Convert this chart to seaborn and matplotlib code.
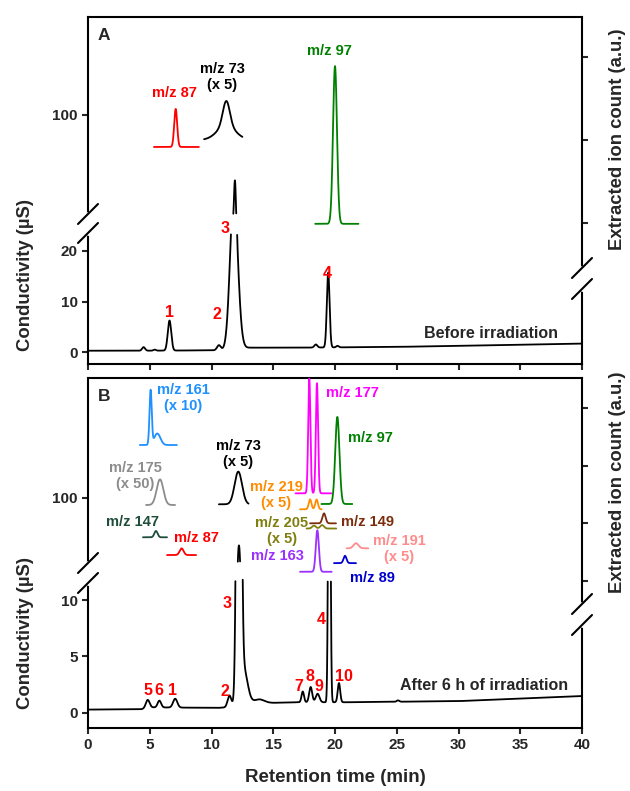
import numpy as np
import pandas as pd
import matplotlib
matplotlib.use("Agg")
import matplotlib.pyplot as plt
from matplotlib.lines import Line2D
import seaborn as sns

# ======================= DATA =======================
# ---- Panel A : conductivity trace (before irradiation) ----
baseA_t = [0.0, 4.2, 9.5, 11.4, 12.6, 17.0, 25.0, 30.0, 40.0]
baseA_v = [0.35, 0.35, 0.42, 0.45, 0.95, 0.95, 1.1, 1.3, 1.75]
peakA_t = [4.5, 5.4, 6.6, 10.6, 11.8, 11.9, 12.2, 18.45, 19.45, 20.2]
peakA_h = [0.7, 0.2, 5.9, 1.0, 30.0, 27.0, 2.0, 0.6, 14.7, 0.3]
peakA_w = [0.12, 0.10, 0.14, 0.15, 0.30, 0.07, 0.25, 0.12, 0.11, 0.10]
labelA_txt = ["1", "2", "3", "4"]
labelA_x = [6.6, 10.4, 11.1, 19.4]
labelA_y = [7.8, 7.5, 26.9, 15.6]

# ---- Panel A : extracted ion chromatograms ----
eicA_name = ["m/z 87", "m/z 73", "m/z 97"]
eicA_color = ["#FF0000", "#000000", "#008000"]
eicA_tmin = [5.34, 9.4, 18.4]
eicA_tmax = [8.98, 12.5, 21.9]
eicA_base = [1.916, 2.0, 0.99]
eicA_pk_t = [[7.1], [11.2, 11.2], [20.0]]
eicA_pk_h = [[0.458], [0.30, 0.17], [1.9]]
eicA_pk_w = [[0.12], [0.28, 0.75], [0.16]]
eicA_lbl = ["m/z 87", "m/z 73\n(x 5)", "m/z 97"]
eicA_lbl_x = [6.96, 10.85, 19.51]
eicA_lbl_y = [2.566, 2.76, 3.07]

# ---- Panel B : conductivity trace (after 6 h irradiation) ----
baseB_t = [0.0, 4.3, 5.0, 10.5, 11.3, 13.0, 15.0, 17.0, 21.0, 30.0, 40.0]
baseB_v = [0.3, 0.33, 0.5, 0.45, 0.5, 1.0, 0.9, 0.95, 0.95, 1.05, 1.5]
peakB_t = [4.83, 5.78, 7.06, 11.45, 12.22, 12.6, 13.9, 17.39, 18.03, 18.59, 19.54, 20.32, 25.1]
peakB_h = [0.7, 0.6, 0.78, 1.0, 66.0, 3.0, 0.25, 0.95, 1.35, 0.75, 40.0, 1.7, 0.12]
peakB_w = [0.15, 0.14, 0.17, 0.15, 0.15, 0.30, 0.35, 0.10, 0.12, 0.15, 0.08, 0.10, 0.10]
labelB_txt = ["5", "6", "1", "2", "3", "7", "8", "9", "4", "10"]
labelB_x = [4.83, 5.75, 6.87, 11.1, 11.3, 17.1, 17.95, 18.7, 18.9, 20.7]
labelB_y = [1.95, 1.95, 1.95, 1.86, 9.65, 2.3, 3.19, 2.3, 8.3, 3.19]

# ---- Panel B : extracted ion chromatograms ----
eicB_name = ["m/z 161", "m/z 175", "m/z 147", "m/z 87", "m/z 73", "m/z 177", "m/z 97",
             "m/z 219", "m/z 149", "m/z 205", "m/z 163", "m/z 89", "m/z 191"]
eicB_color = ["#1E90FF", "#8C8C8C", "#1E4D3A", "#FF0000", "#000000", "#FF00FF", "#008000",
              "#FF8C00", "#7B2D0C", "#7F7F10", "#9B30FF", "#0000CD", "#FF8C8C"]
eicB_tmin = [4.2, 4.7, 4.45, 6.4, 10.6, 16.8, 18.9, 17.17, 17.98, 17.7, 17.17, 19.92, 20.94]
eicB_tmax = [7.2, 7.05, 6.4, 8.75, 13.0, 19.7, 21.4, 18.92, 20.08, 20.1, 19.73, 21.7, 22.7]
eicB_base = [3.358, 2.318, 1.758, 1.45, 2.33, 2.52, 2.335, 2.243, 2.0, 1.91, 1.16, 1.31, 1.567]
eicB_pk_t = [[5.07, 5.61], [5.83], [5.5], [7.58], [12.17], [17.92, 18.54], [20.19],
             [17.98, 18.51], [19.11], [18.3, 18.95], [18.57], [20.81], [21.7]]
eicB_pk_h = [[0.94, 0.2], [0.445], [0.11], [0.115], [0.567], [1.99, 1.91], [1.51],
             [0.173, 0.17], [0.173], [0.05, 0.06], [0.72], [0.127], [0.087]]
eicB_pk_w = [[0.09, 0.25], [0.27], [0.13], [0.16], [0.30], [0.09, 0.09], [0.17],
             [0.11, 0.11], [0.13], [0.15, 0.15], [0.125], [0.12], [0.2]]
eicB_lbl = ["m/z 161\n(x 10)", "m/z 175\n(x 50)", "m/z 147", "m/z 87", "m/z 73\n(x 5)",
            "m/z 177", "m/z 97", "m/z 219\n(x 5)", "m/z 149", "m/z 205\n(x 5)",
            "m/z 163", "m/z 89", "m/z 191\n(x 5)"]
eicB_lbl_x = [7.69, 3.81, 3.64, 8.74, 12.15, 21.38, 22.83, 15.22, 22.67, 15.71, 15.3, 23.0, 25.18]
eicB_lbl_y = [4.17, 2.82, 2.02, 1.75, 3.20, 4.26, 3.48, 2.49, 2.02, 1.87, 1.43, 1.05, 1.55]

x_ticks = [0, 5, 10, 15, 20, 25, 30, 35, 40]
yticksA = [0, 10, 20, 100]
yticksB = [0, 5, 10, 100]

# ======================= STYLE / LAYOUT =======================
sns.set_theme(style="ticks")
plt.rcParams['font.family'] = ['Liberation Sans', 'DejaVu Sans']
plt.rcParams['font.weight'] = 'bold'
plt.rcParams['axes.labelweight'] = 'bold'

W, H = 630, 791
fig = plt.figure(figsize=(W / 100, H / 100), dpi=100)


def px_rect(l, t, r, b):
    return [l / W, 1 - b / H, (r - l) / W, (b - t) / H]


def broken_map(vs, hs):
    vs = np.asarray(vs, float)
    hs = np.asarray(hs, float)
    s0 = (hs[1] - hs[0]) / (vs[1] - vs[0])
    s1 = (hs[-1] - hs[-2]) / (vs[-1] - vs[-2])

    def fwd(v):
        v = np.asarray(v, float)
        out = np.interp(v, vs, hs)
        out = np.where(v < vs[0], hs[0] + (v - vs[0]) * s0, out)
        out = np.where(v > vs[-1], hs[-1] + (v - vs[-1]) * s1, out)
        return out

    def inv(h):
        h = np.asarray(h, float)
        out = np.interp(h, hs, vs)
        out = np.where(h < hs[0], vs[0] + (h - hs[0]) / s0, out)
        out = np.where(h > hs[-1], vs[-1] + (h - hs[-1]) / s1, out)
        return out
    return fwd, inv


def conductivity_segments(base_t, base_v, pk_t, pk_h, pk_w, gap):
    t = np.arange(0, 40.0001, 0.002)
    v = np.interp(t, base_t, base_v)
    for c, h, w in zip(pk_t, pk_h, pk_w):
        v = v + h * np.exp(-0.5 * ((t - c) / w) ** 2)
    ok = ~((v > gap[0]) & (v < gap[1]))
    seg = np.cumsum(~ok)
    df = pd.DataFrame({'t': t, 'v': v, 'seg': seg})[ok]
    return [g for _, g in df.groupby('seg')]


def eic_df(names, tmin, tmax, base, pk_t, pk_h, pk_w):
    parts = []
    for i, n in enumerate(names):
        tt = np.arange(tmin[i], tmax[i] + 1e-9, 0.01)
        vv = np.full_like(tt, base[i])
        for c, h, w in zip(pk_t[i], pk_h[i], pk_w[i]):
            vv = vv + h * np.exp(-0.5 * ((tt - c) / w) ** 2)
        parts.append(pd.DataFrame({'t': tt, 'v': vv, 'trace': n}))
    return pd.concat(parts, ignore_index=True)


LW = 1.3
SPW = 1.5


def panel(rect, vs, hs, gap, yticks, cond, peak_lbl, eic, eic_lbl, rlim, rticks,
          letter, cond_text, cond_text_xy, show_xlabels):
    ax = fig.add_axes(px_rect(*rect))
    fwd, inv = broken_map(vs, hs)
    ax.set_yscale('function', functions=(fwd, inv))
    ax.set_ylim(vs[0], vs[-1])
    ax.set_xlim(0, 40)
    for seg_df in conductivity_segments(*cond, gap):
        sns.lineplot(data=seg_df, x='t', y='v', estimator=None, sort=False,
                     color='black', lw=LW, ax=ax)
    for s, x, y in zip(*peak_lbl):
        ax.text(x, y, s, color='#FF0000', fontsize=11.5, fontweight='bold',
                ha='center', va='center')
    ax.text(cond_text_xy[0], cond_text_xy[1], cond_text, fontsize=11.5,
            fontweight='bold', ha='right', va='center')
    ax.text(0.02, letter[1], letter[0], transform=ax.transAxes, fontsize=12.5,
            fontweight='bold', ha='left', va='center')
    ax.set_ylim(vs[0], vs[-1])
    ax.set_xlim(0, 40)
    ax.set_yticks(yticks)
    ax.set_yticklabels([str(v) for v in yticks])
    ax.minorticks_off()
    ax.set_xticks(x_ticks)
    ax.tick_params(axis='both', direction='out', length=4.5, width=SPW,
                   labelsize=11, pad=3, top=False, right=False)
    if not show_xlabels:
        ax.tick_params(labelbottom=False)
    ax.set_xlabel('')
    ax.set_ylabel('')
    for s in ax.spines.values():
        s.set_linewidth(SPW)
        s.set_color('black')
    for lab in ax.get_xticklabels() + ax.get_yticklabels():
        lab.set_fontweight('bold')

    ax2 = ax.twinx()
    dfe = eic_df(*eic)
    pal = dict(zip(eic[0], eic_lbl[3]))
    sns.lineplot(data=dfe, x='t', y='v', hue='trace', palette=pal, estimator=None,
                 sort=False, lw=LW, legend=False, ax=ax2)
    for s, x, y, c in zip(eic_lbl[0], eic_lbl[1], eic_lbl[2], eic_lbl[3]):
        ax2.text(x, y, s, color=c, fontsize=10.5, fontweight='bold', ha='center',
                 va='center', linespacing=1.2)
    ax2.set_ylim(*rlim)
    ax2.set_xlim(0, 40)
    ax2.set_yticks(rticks)
    ax2.tick_params(axis='y', direction='out', length=4.5, width=SPW,
                    labelright=False)
    ax2.set_xlabel('')
    ax2.set_ylabel('')
    for k in ['left', 'top', 'bottom']:
        ax2.spines[k].set_visible(False)
    ax2.spines['right'].set_linewidth(SPW)
    ax2.spines['right'].set_color('black')
    ax.spines['right'].set_visible(False)
    return ax, ax2


axA, axA2 = panel(
    (88, 17, 582, 364), [-2.26, 23.2, 35.0, 164.3], [0, 129.6, 150, 347], (23.2, 35.0),
    yticksA, (baseA_t, baseA_v, peakA_t, peakA_h, peakA_w),
    (labelA_txt, labelA_x, labelA_y),
    (eicA_name, eicA_tmin, eicA_tmax, eicA_base, eicA_pk_t, eicA_pk_h, eicA_pk_w),
    (eicA_lbl, eicA_lbl_x, eicA_lbl_y, eicA_color),
    (-0.699, 3.482), [1, 2, 3], ("A", 0.948), "Before irradiation", (38.06, 3.8), False)

axB, axB2 = panel(
    (88, 378, 582, 728), [-1.33, 11.86, 57.0, 180.6], [0, 149, 166, 350], (11.86, 57.0),
    yticksB, (baseB_t, baseB_v, peakB_t, peakB_h, peakB_w),
    (labelB_txt, labelB_x, labelB_y),
    (eicB_name, eicB_tmin, eicB_tmax, eicB_base, eicB_pk_t, eicB_pk_h, eicB_pk_w),
    (eicB_lbl, eicB_lbl_x, eicB_lbl_y, eicB_color),
    (-1.549, 4.52), [1, 2, 3, 4], ("B", 0.946), "After 6 h of irradiation", (38.87, 2.4), True)

axB.set_xlabel("Retention time (min)", fontsize=13.5, fontweight='bold', labelpad=12)

# axis titles
for yc in (275, 633):
    fig.text(25.5 / W, 1 - yc / H, "Conductivity (µS)", rotation=90, fontsize=13.3,
             fontweight='bold', ha='center', va='center')
for yc in (139, 482):
    fig.text(617 / W, 1 - yc / H, "Extracted ion count (a.u.)", rotation=90,
             fontsize=13.3, fontweight='bold', ha='center', va='center')


# axis-break marks
def brk(xp, y1, y2):
    fig.add_artist(Line2D([xp / W, xp / W], [1 - y1 / H, 1 - y2 / H],
                          transform=fig.transFigure, color='white', lw=3.5))
    for y in (y1, y2):
        fig.add_artist(Line2D([(xp - 10) / W, (xp + 10) / W],
                              [1 - (y + 10) / H, 1 - (y - 10) / H],
                              transform=fig.transFigure, color='black', lw=SPW))


brk(88, 214, 233)
brk(88, 563, 583)
brk(582, 268, 289)
brk(582, 604, 625)

fig.savefig("out.png", dpi=100)
